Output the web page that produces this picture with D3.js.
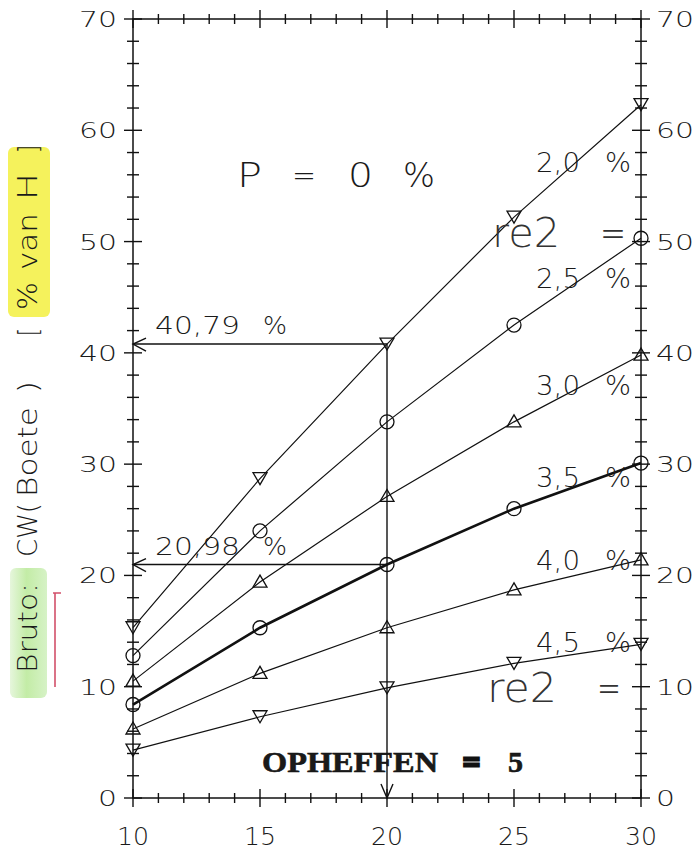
<!DOCTYPE html>
<html>
<head>
<meta charset="utf-8">
<script src="https://cdn.jsdelivr.net/npm/d3@7"></script>
<style>
  body { margin: 0; background: #fff; }
  svg { display: block; }
  text { font-family: "DejaVu Sans", sans-serif; fill: #1a1a1a; }
</style>
</head>
<body>
<svg id="chart" width="700" height="851"></svg>
<script>
// data
var xValues = [10, 15, 20, 25, 30];
var xTicks = [10, 15, 20, 25, 30];
var yTicks = [0, 10, 20, 30, 40, 50, 60, 70];
var rates = ['2,0', '2,5', '3,0', '3,5', '4,0', '4,5'];
var markerKinds = ['down', 'circle', 'up', 'circle', 'up', 'down'];
var re20 = [15.3, 28.7, 40.79, 52.2, 62.3];
var re25 = [12.8, 24.0, 33.8, 42.5, 50.3];
var re30 = [10.5, 19.4, 27.1, 33.8, 39.8];
var re35 = [8.4, 15.3, 20.98, 26.0, 30.1];
var re40 = [6.2, 11.2, 15.3, 18.7, 21.4];
var re45 = [4.3, 7.3, 9.9, 12.1, 13.8];
var readOffs = [40.79, 20.98];
var readOffLabels = ['40,79', '20,98'];
var readOffX = 20;

var series = [re20, re25, re30, re35, re40, re45];

var svg = d3.select('#chart');
var x = d3.scaleLinear().domain([10, 30]).range([133, 641]);
var y = d3.scaleLinear().domain([0, 70]).range([798, 19]);

// helper: text squeezed/stretched to the width seen on the scan
function label(g, str, px, py, size, len) {
    var t = g.append('text')
        .attr('x', px).attr('y', py)
        .attr('font-size', size)
        .text(str);
    if (len) t.attr('textLength', len).attr('lengthAdjust', 'spacingAndGlyphs');
    return t;
}

// highlighter marks on the scanned page
var grad = svg.append('defs').append('linearGradient').attr('id', 'green');
grad.append('stop').attr('offset', '0%').attr('stop-color', '#e6f6dc');
grad.append('stop').attr('offset', '45%').attr('stop-color', '#c3eca6');
grad.append('stop').attr('offset', '100%').attr('stop-color', '#d6f2c6');
svg.append('rect').attr('x', 8).attr('y', 147).attr('width', 42).attr('height', 170)
    .attr('rx', 6).attr('fill', '#f5f25c');
svg.append('rect').attr('x', 10).attr('y', 568).attr('width', 37).attr('height', 130)
    .attr('rx', 6).attr('fill', 'url(#green)');
svg.append('path').attr('d', 'M53,593H61M55,593V687')
    .attr('stroke', '#d2506a').attr('stroke-width', 1.6).attr('fill', 'none');

// frame
svg.append('rect')
    .attr('x', x(10)).attr('y', y(70))
    .attr('width', x(30) - x(10)).attr('height', y(0) - y(70))
    .attr('fill', 'none').attr('stroke', '#111').attr('stroke-width', 1.5);

var ticks = svg.append('g').attr('stroke', '#111').attr('stroke-width', 1.4);
var xMinor = d3.range(10, 31, 1);
var yMinor = d3.range(0, 71, 2);
[y(0), y(70)].forEach(function(py) {
    ticks.selectAll(null).data(xMinor).enter().append('line')
        .attr('x1', function(d) { return x(d); })
        .attr('x2', function(d) { return x(d); })
        .attr('y1', function(d) { return py - (d % 5 == 0 ? 9 : 5); })
        .attr('y2', function(d) { return py + (d % 5 == 0 ? 9 : 5); });
});
[x(10), x(30)].forEach(function(px) {
    ticks.selectAll(null).data(yMinor).enter().append('line')
        .attr('y1', function(d) { return y(d); })
        .attr('y2', function(d) { return y(d); })
        .attr('x1', function(d) { return px - (d % 10 == 0 ? 9 : 6); })
        .attr('x2', function(d) { return px + (d % 10 == 0 ? 9 : 6); });
});

// tick labels (wide geometric digits on the scan)
var tl = svg.append('g').attr('font-weight', 200);
yTicks.forEach(function(d) {
    var s = String(d);
    label(tl, s, 117 - s.length * 19, y(d) + 8, 21, s.length * 19);
    label(tl, s, 656, y(d) + 8, 21, s.length * 19);
});
xTicks.forEach(function(d) {
    label(tl, String(d), x(d) - 16, 845, 24, 32);
});

// series
var line = d3.line()
    .x(function(d, i) { return x(xValues[i]); })
    .y(function(d) { return y(d); });

series.forEach(function(s, k) {
    svg.append('path')
        .attr('d', line(s))
        .attr('fill', 'none')
        .attr('stroke', '#111')
        .attr('stroke-width', k == 3 ? 2.6 : 1.2);

    var m = svg.append('g').attr('fill', 'none').attr('stroke', '#111').attr('stroke-width', 1.3);
    s.forEach(function(v, i) {
        var cx = x(xValues[i]), cy = y(v);
        if (markerKinds[k] == 'circle') {
            m.append('circle').attr('cx', cx).attr('cy', cy).attr('r', 7);
        } else if (markerKinds[k] == 'up') {
            m.append('path').attr('d', 'M' + (cx - 7) + ',' + (cy + 5) + 'H' + (cx + 7) + 'L' + cx + ',' + (cy - 7) + 'Z');
        } else {
            m.append('path').attr('d', 'M' + (cx - 7) + ',' + (cy - 6) + 'H' + (cx + 7) + 'L' + cx + ',' + (cy + 6) + 'Z');
        }
    });
});

// rate labels at the right end
var labelBase = [172, 288, 395, 487, 570, 652];
var rl = svg.append('g').attr('font-weight', 200);
rates.forEach(function(r, k) {
    label(rl, r, 536, labelBase[k], 27, 44);
    label(rl, '%', 605, labelBase[k], 27, 26);
});

// read-off arrows at x = 20
var ar = svg.append('g').attr('fill', 'none').attr('stroke', '#111').attr('stroke-width', 1.4);
readOffs.forEach(function(v) {
    ar.append('line').attr('x1', x(readOffX)).attr('x2', x(10)).attr('y1', y(v)).attr('y2', y(v));
    ar.append('path').attr('d', 'M' + (x(10) + 13) + ',' + (y(v) - 6) + 'L' + x(10) + ',' + y(v) + 'L' + (x(10) + 13) + ',' + (y(v) + 7));
});
ar.append('line').attr('x1', x(readOffX)).attr('x2', x(readOffX)).attr('y1', y(d3.max(readOffs))).attr('y2', y(0));
ar.append('path').attr('d', 'M' + (x(readOffX) - 6) + ',' + (y(0) - 14) + 'L' + x(readOffX) + ',' + y(0) + 'L' + (x(readOffX) + 6) + ',' + (y(0) - 14));

var al = svg.append('g').attr('font-weight', 200);
readOffs.forEach(function(v, i) {
    label(al, readOffLabels[i], 155, y(v) - 10, 24, 85);
    label(al, '%', 263, y(v) - 10, 24, 24);
});

// annotations
var an = svg.append('g').attr('font-weight', 200);
label(an, 'P', 237, 187, 34, 25);
label(an, '=', 292, 187, 34, 24);
label(an, '0', 348, 187, 34, 25);
label(an, '%', 403, 187, 34, 32);
label(an, 're2', 492, 247, 40, 68).style('fill', '#333');
label(an, '=', 600, 247, 40, 26).style('fill', '#333');
label(an, 're2', 487, 702, 40, 70).style('fill', '#333');
label(an, '=', 597, 702, 40, 24).style('fill', '#333');

// bold serif note; the scanned "=" has run together into a block
var op = svg.append('g').attr('font-weight', 'bold');
label(op, 'OPHEFFEN', 262, 772, 30, 176)
    .style('font-family', '"Liberation Serif", serif')
    .attr('stroke', '#111').attr('stroke-width', 0.6);
label(op, '=', 463, 772, 30, 17)
    .style('font-family', '"Liberation Serif", serif')
    .attr('stroke', '#111').attr('stroke-width', 3);
label(op, '5', 508, 772, 30, 15)
    .style('font-family', '"Liberation Serif", serif')
    .attr('stroke', '#111').attr('stroke-width', 0.6);

// rotated axis title
var tt = svg.append('g').attr('transform', 'rotate(-90)').attr('font-weight', 200);
label(tt, 'Bruto:', -673, 37, 26, 90);
label(tt, 'CW(', -557, 37, 26, 54);
label(tt, 'Boete', -497, 37, 26, 90);
label(tt, ')', -393, 37, 26, 12);
label(tt, '[', -336, 37, 26, 8);
label(tt, '%', -310, 37, 26, 28);
label(tt, 'van', -270, 37, 26, 57);
label(tt, 'H', -200, 37, 26, 27);
label(tt, ']', -153, 37, 26, 8);
</script>
</body>
</html>
